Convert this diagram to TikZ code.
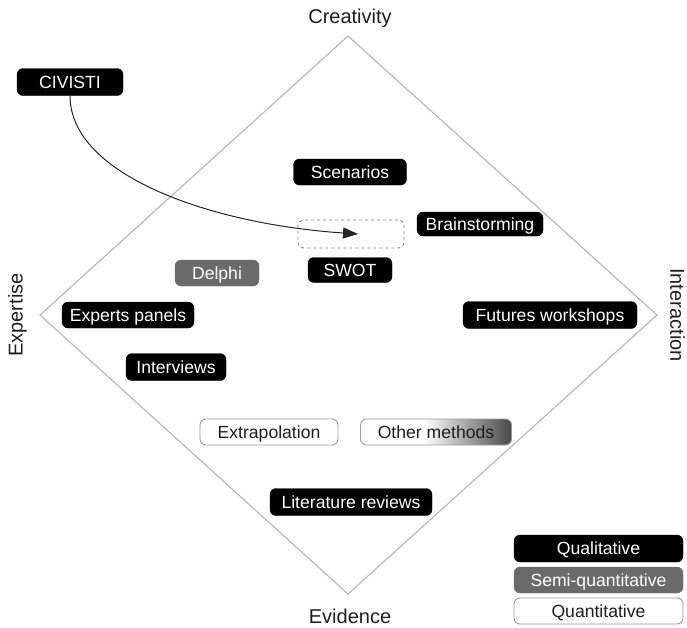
\documentclass[tikz,border=0pt]{standalone}
\usepackage{fontspec}
\setmainfont{Liberation Sans}
\usetikzlibrary{arrows.meta}
\definecolor{semigray}{HTML}{6A6A6A}
\definecolor{linegray}{HTML}{B4B4B4}
\definecolor{bordergray}{HTML}{9A9A9A}
\definecolor{txtdark}{HTML}{1E1E1E}
\pgfdeclarehorizontalshading{othergrad}{100bp}{color(0bp)=(white); color(25bp)=(white); color(46bp)=(white); color(75bp)=(black!72); color(100bp)=(black!72)}
\tikzset{
  meth/.style={rounded corners=6pt, inner sep=0pt, text height=12.6pt, text depth=0pt,
    font=\fontsize{17.6}{20}\selectfont, align=center},
  qual/.style={meth, fill=black, draw=black, text=white},
  semi/.style={meth, fill=semigray, draw=semigray, text=white},
  quant/.style={meth, fill=white, draw=bordergray, line width=0.9pt, text=txtdark},
  axislabel/.style={inner sep=0pt, text height=14.3pt, text depth=0pt,
    font=\fontsize{20}{24}\selectfont, text=txtdark},
  diam/.style={draw=linegray, line width=1.1pt},
  target/.style={rounded corners=6pt, draw=gray, dashed, line width=0.9pt, inner sep=0pt},
  flow/.style={draw=black!85, line width=1pt, -{Triangle[length=15pt,width=11pt]}}
}
\begin{document}
\begin{tikzpicture}[x=1pt,y=-1pt]
\useasboundingbox (0,0) rectangle (687,627);
% diamond
\coordinate (dtop) at (348,36);
\coordinate (dright) at (657,315);
\coordinate (dbottom) at (348,594);
\coordinate (dleft) at (40,315);
\draw[diam] (dtop) -- (dright) -- (dbottom) -- (dleft) -- cycle;
% axis labels
\node[axislabel] (creat) at (350,16.5) {Creativity};
\node[axislabel] (evid) at (350,616) {Evidence};
\node[axislabel, rotate=90] (expert) at (15.5,315) {Expertise};
\node[axislabel, rotate=-90] (inter) at (677.5,315) {Interaction};
% methods
\node[qual, minimum width=106pt, minimum height=27pt] (civisti) at (70,82) {CIVISTI};
\node[qual, minimum width=113pt, minimum height=26pt] (scen) at (350,172) {Scenarios};
\node[target, minimum width=106pt, minimum height=28pt] (slot) at (351,234) {};
\node[qual, minimum width=126pt, minimum height=24pt] (brain) at (480,224) {Brainstorming};
\node[qual, minimum width=84pt, minimum height=25pt] (swot) at (350,270) {SWOT};
\node[semi, minimum width=84pt, minimum height=26pt] (delphi) at (217,273) {Delphi};
\node[qual, minimum width=132pt, minimum height=26pt] (experts) at (128,315) {Experts panels};
\node[qual, minimum width=100pt, minimum height=27pt] (interv) at (176,367) {Interviews};
\node[qual, minimum width=174pt, minimum height=27pt] (futures) at (550,315) {Futures workshops};
\node[quant, minimum width=138pt, minimum height=26pt] (extra) at (269,432) {Extrapolation};
\node[meth, shading=othergrad, draw=bordergray, line width=0.9pt, text=txtdark,
  minimum width=151pt, minimum height=26pt] (other) at (436,432) {Other methods};
\node[qual, minimum width=162pt, minimum height=27pt] (lit) at (351,502) {Literature reviews};
% legend
\node[qual, minimum width=169pt, minimum height=27pt] (legqual) at (598.5,548.5) {Qualitative};
\node[semi, minimum width=169pt, minimum height=26pt] (legsemi) at (598.5,580) {Semi-quantitative};
\node[quant, minimum width=169pt, minimum height=26pt] (legquant) at (598.5,611) {Quantitative};
% arrow
\coordinate (tipend) at (358,234);
\draw[flow] (civisti.south) .. controls (70,175) and (210,224) .. (tipend);
\end{tikzpicture}
\end{document}
